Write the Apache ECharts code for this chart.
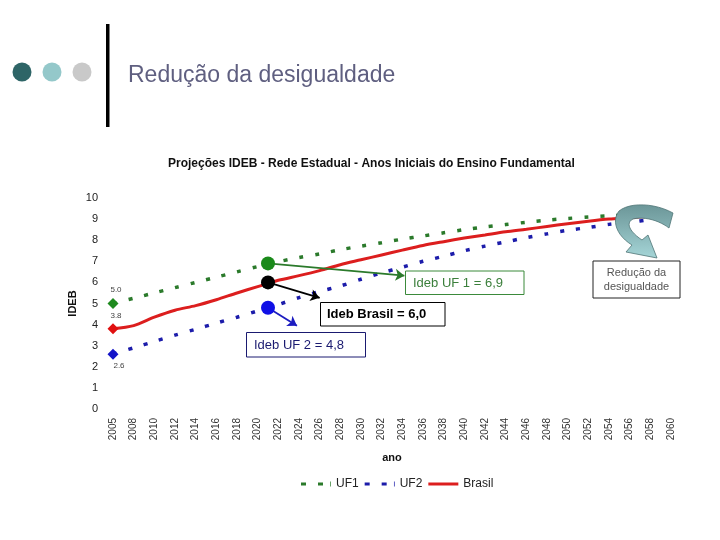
<!DOCTYPE html>
<html>
<head>
<meta charset="utf-8">
<script src="https://cdn.jsdelivr.net/npm/echarts@6/dist/echarts.min.js"></script>
<style>
  html, body { margin: 0; padding: 0; background: #fff; }
  #main { width: 720px; height: 540px; }
</style>
</head>
<body>
<div id="main"></div>
<script>
// anos (rótulos do eixo x)
const anos = ['2005', '2008', '2010', '2012', '2014', '2016', '2018', '2020', '2022', '2024',
  '2026', '2028', '2030', '2032', '2034', '2036', '2038', '2040', '2042', '2044',
  '2046', '2048', '2050', '2052', '2054', '2056', '2058', '2060'];

// projeções
const uf1 = [5.0, 5.25, 5.5, 5.75, 6.0, 6.25, 6.5, 6.75, 6.98, 7.18,
  7.35, 7.55, 7.72, 7.88, 8.05, 8.2, 8.35, 8.5, 8.63, 8.74,
  8.85, 8.95, 9.03, 9.1, 9.16, 9.2, 9.23, 9.26];
const uf2 = [2.6, 2.9, 3.2, 3.5, 3.78, 4.07, 4.35, 4.65, 4.95, 5.28,
  5.57, 5.83, 6.15, 6.45, 6.72, 7.0, 7.24, 7.5, 7.72, 7.92,
  8.12, 8.3, 8.47, 8.6, 8.75, 8.85, 8.98, 9.1];
const brasil = [3.8, 3.95, 4.35, 4.68, 4.9, 5.18, 5.5, 5.8, 6.1, 6.32,
  6.56, 6.84, 7.07, 7.3, 7.53, 7.75, 7.93, 8.1, 8.25, 8.4,
  8.52, 8.65, 8.78, 8.9, 9.0, 9.06, 9.13, 9.24];

// metas destacadas (2021, entre 2020 e 2022)
const destaqueIdx = 7.5;
const destaque = [6.9, 6.0, 4.8];   // UF1, Brasil, UF2
const yTicks = [0, 10, 1];          // min, max, intervalo

const FONT = 'Liberation Sans, Arial, sans-serif';

const firstPoint = (v, color, pos, offset) => ({
  value: v,
  symbol: 'diamond',
  symbolSize: 11,
  itemStyle: { color: color },
  label: {
    show: true, position: pos, offset: offset, distance: 4,
    formatter: (p) => Number(p.value).toFixed(1),
    fontSize: 8, color: '#444', fontFamily: FONT
  }
});

// contorno da seta curva
const bez = (p0, p1, p2, p3, n) => {
  const out = [];
  for (let i = 1; i <= n; i++) {
    const t = i / n, u = 1 - t;
    out.push([
      u * u * u * p0[0] + 3 * u * u * t * p1[0] + 3 * u * t * t * p2[0] + t * t * t * p3[0],
      u * u * u * p0[1] + 3 * u * u * t * p1[1] + 3 * u * t * t * p2[1] + t * t * t * p3[1]
    ]);
  }
  return out;
};
const setaPts = [[673, 213]]
  .concat(bez([673, 213], [655, 203], [630, 202], [619, 211], 12))
  .concat(bez([619, 211], [611, 221], [617, 236], [632, 245], 12))
  .concat([[626, 252], [657, 258], [648, 235], [642, 240]])
  .concat(bez([642, 240], [630, 232], [625, 223], [633, 219], 12))
  .concat(bez([633, 219], [645, 216], [660, 221], [669, 228], 12));

// ícones da legenda (tracejado curto + traço fino, como no original)
const iconTracejado = 'path://M0,1H5V4H0Z M17,1H22V4H17Z M29.3,0H30V5H29.3Z';
const iconContinuo = 'path://M0,1H30V4H0Z';

const chart = echarts.init(document.getElementById('main'));

const option = {
  backgroundColor: '#fff',
  animation: false,
  textStyle: { fontFamily: FONT },
  title: {
    text: 'Projeções IDEB - Rede Estadual - Anos Iniciais do Ensino Fundamental',
    left: 163, top: 153,
    textStyle: { fontSize: 12, fontWeight: 'bold', color: '#111', fontFamily: FONT }
  },
  legend: {
    data: [
      { name: 'UF1', icon: iconTracejado },
      { name: 'UF2', icon: iconTracejado },
      { name: 'Brasil', icon: iconContinuo }
    ],
    left: 296, top: 473,
    itemWidth: 30, itemHeight: 5, itemGap: 6,
    textStyle: { fontSize: 12, color: '#222', fontFamily: FONT }
  },
  grid: { left: 113, right: 49, top: 198, bottom: 131 },
  xAxis: [{
    type: 'category',
    data: anos,
    boundaryGap: false,
    name: 'ano', nameLocation: 'middle', nameGap: 43,
    nameTextStyle: { fontSize: 11, fontWeight: 'bold', color: '#111' },
    axisLine: { show: false },
    axisTick: { show: false },
    axisLabel: { rotate: 90, interval: 0, fontSize: 10, color: '#333', margin: 9 }
  }, {
    type: 'value', min: 0, max: anos.length - 1, show: false
  }],
  yAxis: {
    type: 'value',
    min: yTicks[0], max: yTicks[1], interval: yTicks[2],
    name: 'IDEB', nameLocation: 'middle', nameGap: 35, nameRotate: 90,
    nameMoveOverlap: false,
    nameTextStyle: { fontSize: 11, fontWeight: 'bold', color: '#111' },
    axisLine: { show: false },
    axisTick: { show: false },
    splitLine: { show: false },
    axisLabel: { fontSize: 11, color: '#222', margin: 15 }
  },
  series: [{
    name: 'UF1', type: 'line', smooth: 0.3,
    symbol: 'none', showSymbol: true, showAllSymbol: true,
    color: '#2b7a2b',
    lineStyle: { color: '#2b7a2b', width: 3.5, type: [4, 12] },
    data: uf1.map((v, i) => i === 0 ? firstPoint(v, '#1f8a1f', 'top', [3, 0]) : v),
    z: 3
  }, {
    name: 'UF2', type: 'line', smooth: 0.3,
    symbol: 'none', showSymbol: true, showAllSymbol: true,
    color: '#1c1caa',
    lineStyle: { color: '#1c1caa', width: 3.5, type: [4, 12] },
    data: uf2.map((v, i) => i === 0 ? firstPoint(v, '#1414c8', 'bottom', [6, -2]) : v),
    z: 3
  }, {
    name: 'Brasil', type: 'line', smooth: 0.3,
    symbol: 'none', showSymbol: true, showAllSymbol: true,
    color: '#dc1e1e',
    lineStyle: { color: '#dc1e1e', width: 3 },
    data: brasil.map((v, i) => i === 0 ? firstPoint(v, '#e01010', 'top', [3, 0]) : v),
    z: 4
  }, {
    name: 'Ideb 2021', type: 'scatter',
    xAxisIndex: 1,
    symbolSize: 14,
    itemStyle: { opacity: 1 },
    data: [
      { value: [destaqueIdx, destaque[0]], itemStyle: { color: '#1a8a1a', opacity: 1 } },
      { value: [destaqueIdx, destaque[1]], itemStyle: { color: '#000', opacity: 1 } },
      { value: [destaqueIdx, destaque[2]], itemStyle: { color: '#1010e6', opacity: 1 } }
    ],
    markLine: {
      silent: true,
      symbol: ['none', 'arrow'],
      symbolSize: 9,
      label: { show: false },
      data: [
        [{ coord: [destaqueIdx, destaque[0]], lineStyle: { color: '#2b7a2b', width: 1.8, type: 'solid' } },
         { coord: [14.1, 6.32] }],
        [{ coord: [destaqueIdx, destaque[1]], lineStyle: { color: '#000', width: 1.8, type: 'solid' } },
         { coord: [10.0, 5.27] }],
        [{ coord: [destaqueIdx, destaque[2]], lineStyle: { color: '#1c1cc0', width: 1.8, type: 'solid' } },
         { coord: [8.9, 3.95] }]
      ]
    },
    z: 6
  }],
  graphic: [
    // cabeçalho do slide
    { type: 'circle', shape: { cx: 22, cy: 72, r: 9.5 }, style: { fill: '#2e6567' } },
    { type: 'circle', shape: { cx: 52, cy: 72, r: 9.5 }, style: { fill: '#94c8ca' } },
    { type: 'circle', shape: { cx: 82, cy: 72, r: 9.5 }, style: { fill: '#c9c9c9' } },
    { type: 'rect', shape: { x: 106, y: 24, width: 3.5, height: 103 }, style: { fill: '#000' } },
    {
      type: 'text', x: 128, y: 76,
      style: { text: 'Redução da desigualdade', font: '23px ' + FONT, fill: '#5f5f80', textVerticalAlign: 'middle' }
    },
    // caixas de anotação
    { type: 'rect', z: 10, shape: { x: 405.5, y: 271, width: 118.5, height: 23.5 },
      style: { fill: '#fff', stroke: '#3b8a3b', lineWidth: 1 } },
    { type: 'text', z: 11, x: 413, y: 283,
      style: { text: 'Ideb UF 1 = 6,9', font: '13px ' + FONT, fill: '#3b7f3b', textVerticalAlign: 'middle' } },
    { type: 'rect', z: 10, shape: { x: 320.5, y: 302.5, width: 124.5, height: 23.5 },
      style: { fill: '#fff', stroke: '#000', lineWidth: 1 } },
    { type: 'text', z: 11, x: 327, y: 314.5,
      style: { text: 'Ideb Brasil = 6,0', font: 'bold 13px ' + FONT, fill: '#000', textVerticalAlign: 'middle' } },
    { type: 'rect', z: 10, shape: { x: 246.5, y: 332.5, width: 119, height: 24.5 },
      style: { fill: '#fff', stroke: '#1a1a70', lineWidth: 1 } },
    { type: 'text', z: 11, x: 254, y: 345,
      style: { text: 'Ideb UF 2 = 4,8', font: '13px ' + FONT, fill: '#1a1a70', textVerticalAlign: 'middle' } },
    { type: 'rect', z: 10, shape: { x: 593, y: 261, width: 87, height: 37 },
      style: { fill: '#fff', stroke: '#222', lineWidth: 1 } },
    { type: 'text', z: 11, x: 636.5, y: 279.5,
      style: { text: 'Redução da\ndesigualdade', font: '11px ' + FONT, fill: '#555', align: 'center',
        textVerticalAlign: 'middle', lineHeight: 14 } },
    // seta curva
    {
      type: 'polygon', z: 20,
      shape: { points: setaPts },
      style: {
        fill: {
          type: 'linear', x: 0, y: 0, x2: 0, y2: 1,
          colorStops: [
            { offset: 0, color: '#6b9698' },
            { offset: 0.35, color: '#7fabad' },
            { offset: 1, color: '#a6d6d8' }
          ]
        },
        stroke: '#4f7576', lineWidth: 0.8
      }
    }
  ]
};

chart.setOption(option);
window.addEventListener('resize', () => chart.resize());
</script>
</body>
</html>
